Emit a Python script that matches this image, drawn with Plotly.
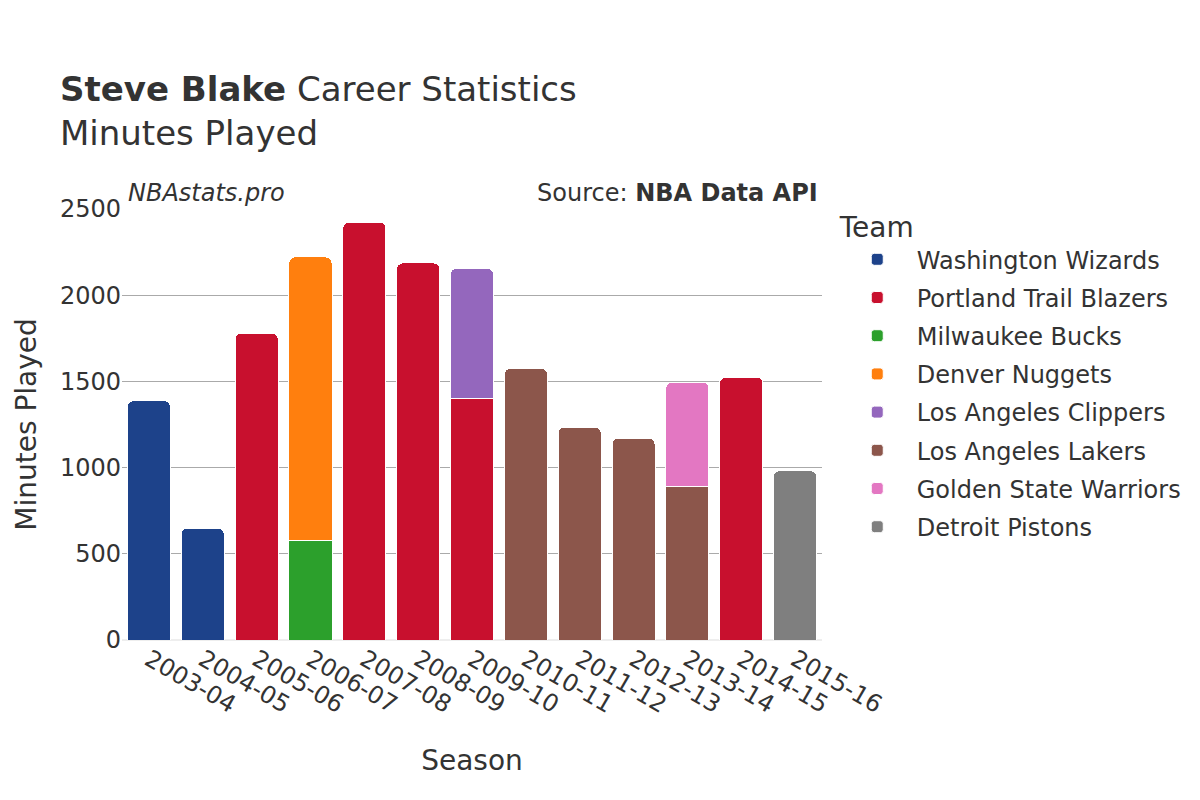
import plotly.graph_objects as go

seasons = ["2003-04", "2004-05", "2005-06", "2006-07", "2007-08", "2008-09", "2009-10",
           "2010-11", "2011-12", "2012-13", "2013-14", "2014-15", "2015-16"]

teams = ["Washington Wizards", "Portland Trail Blazers", "Milwaukee Bucks", "Denver Nuggets",
         "Los Angeles Clippers", "Los Angeles Lakers", "Golden State Warriors", "Detroit Pistons"]

team_colors = ["#1d428a", "#c8102e", "#2ca02c", "#ff7f0e",
               "#9467bd", "#8c564b", "#e377c2", "#7f7f7f"]

# minutes per season, None where the player wasn't on that team
wizards = [1388, 649, None, None, None, None, None, None, None, None, None, None, None]
blazers = [None, None, 1780, None, 2424, 2187, 1398, None, None, None, None, 1525, None]
bucks = [None, None, None, 580, None, None, None, None, None, None, None, None, None]
nuggets = [None, None, None, 1642, None, None, None, None, None, None, None, None, None]
clippers = [None, None, None, None, None, None, 758, None, None, None, None, None, None]
lakers = [None, None, None, None, None, None, None, 1576, 1234, 1170, 893, None, None]
warriors = [None, None, None, None, None, None, None, None, None, None, 602, None, None]
pistons = [None, None, None, None, None, None, None, None, None, None, None, None, 982]

team_minutes = [wizards, blazers, bucks, nuggets, clippers, lakers, warriors, pistons]

font_family = "DejaVu Sans"
text_color = "#333333"

fig = go.Figure()
for team, color, minutes in zip(teams, team_colors, team_minutes):
    fig.add_trace(go.Bar(
        x=seasons, y=minutes, name=team, legendgroup=team,
        marker=dict(color=color, line=dict(color="white", width=1)),
    ))

fig.update_layout(
    barmode="stack",
    bargap=0.2,
    barcornerradius=6,
    width=1200, height=800,
    paper_bgcolor="white",
    plot_bgcolor="white",
    font=dict(family=font_family, color=text_color, size=24),
    margin=dict(l=114, r=386, t=201, b=168, autoexpand=False),
    title=dict(
        text="<b>Steve Blake</b> Career Statistics<br>Minutes Played",
        x=0.0433, xanchor="left", y=0.884, yanchor="top",
        font=dict(size=34, color=text_color),
    ),
    legend=dict(
        title=dict(text="Team", font=dict(size=28)),
        x=1.0225, xanchor="left", y=1.019, yanchor="top",
        font=dict(size=24),
        traceorder="grouped",
        tracegroupgap=4,
        itemwidth=69,
    ),
    annotations=[
        dict(text="<i>NBAstats.pro</i>", xref="paper", yref="paper", x=0, y=1,
             xanchor="left", yanchor="bottom", xshift=4, showarrow=False, font=dict(size=24)),
        dict(text="Source: <b>NBA Data API</b>", xref="paper", yref="paper", x=1, y=1,
             xanchor="right", yanchor="bottom", xshift=-2, showarrow=False, font=dict(size=24)),
    ],
)

fig.update_xaxes(
    type="category",
    title=dict(text="Season", font=dict(size=28), standoff=32),
    tickangle=30,
    tickfont=dict(size=24),
    showgrid=False,
    automargin=False,
)
fig.update_yaxes(
    title=dict(text="Minutes Played", font=dict(size=28)),
    range=[0, 2500],
    tickvals=[0, 500, 1000, 1500, 2000, 2500],
    tickfont=dict(size=24),
    gridcolor="#aaaaaa",
    zeroline=True, zerolinecolor="#eeeeee", zerolinewidth=2,
    automargin=False,
)

fig.write_html("out.html")
